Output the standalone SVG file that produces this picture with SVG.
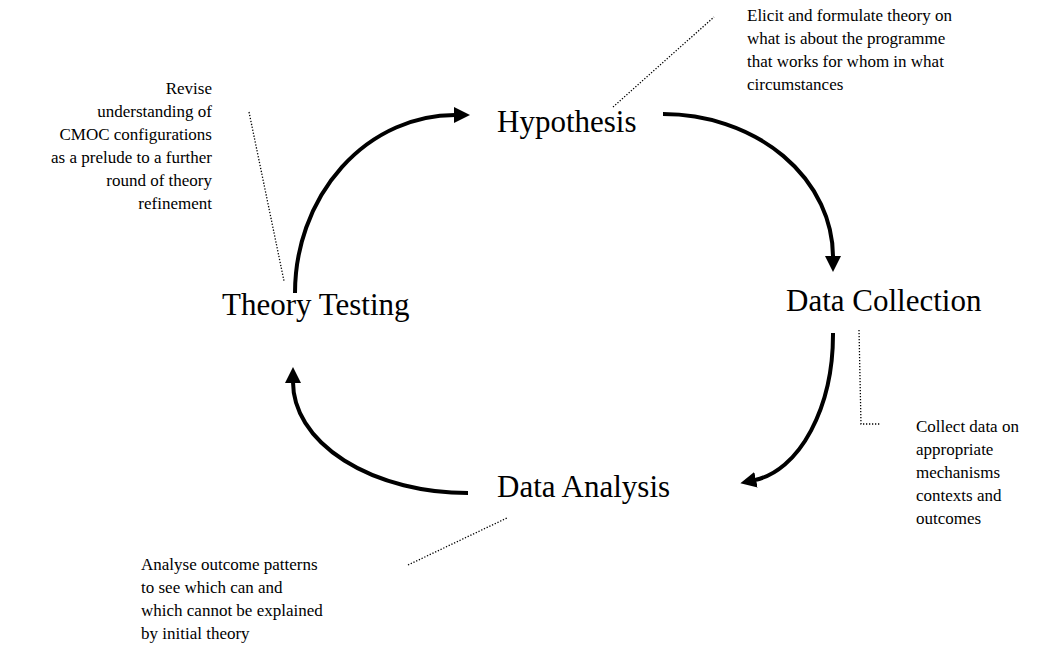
<svg xmlns="http://www.w3.org/2000/svg" width="1053" height="653" viewBox="0 0 1053 653">
<style>
.node{font-family:"Liberation Serif","Times New Roman",serif;font-size:31px;fill:#000}
.note{font-family:"Liberation Serif","Times New Roman",serif;font-size:17px;fill:#000}
.arc{fill:none;stroke:#000;stroke-width:4}
.dot{fill:none;stroke:#000;stroke-width:1.3;stroke-dasharray:1.3 1.7}
</style>
<defs>
<marker id="ah" markerUnits="userSpaceOnUse" markerWidth="16" markerHeight="16" viewBox="0 0 16 16" refX="1" refY="8" orient="auto">
<path d="M0,0 L16,8 L0,16 z" fill="#000"/>
</marker>
</defs>
<rect width="1053" height="653" fill="#fff"/>
<g id="connectors">
<path class="arc" d="M295,293 A160,178 0 0 1 455,115" marker-end="url(#ah)"/>
<path class="arc" d="M663,114 A170,143 0 0 1 833,257" marker-end="url(#ah)"/>
<path class="arc" d="M833,333 A90,147 0 0 1 755,480" marker-end="url(#ah)"/>
<path class="arc" d="M468,493 A175,111 0 0 1 293,382" marker-end="url(#ah)"/>
<path class="dot" d="M613,107 L714,17"/>
<path class="dot" d="M249,112 L284,281"/>
<path class="dot" d="M859,330 L861,424 L880,424"/>
<path class="dot" d="M408,565 L507,518"/>
</g>
<g id="hypothesis"><text class="node" x="497" y="132">Hypothesis</text></g>
<g id="theory-testing"><text class="node" x="222" y="315">Theory Testing</text></g>
<g id="data-collection"><text class="node" x="786" y="311">Data Collection</text></g>
<g id="data-analysis"><text class="node" x="497" y="497">Data Analysis</text></g>
<g id="note-hypothesis" class="note">
<text x="747" y="21">Elicit and formulate theory on</text>
<text x="747" y="44">what is about the programme</text>
<text x="747" y="67">that works for whom in what</text>
<text x="747" y="90">circumstances</text>
</g>
<g id="note-theory" class="note" text-anchor="end">
<text x="212" y="94">Revise</text>
<text x="212" y="117">understanding of</text>
<text x="212" y="140">CMOC configurations</text>
<text x="212" y="163">as a prelude to a further</text>
<text x="212" y="186">round of theory</text>
<text x="212" y="209">refinement</text>
</g>
<g id="note-collection" class="note">
<text x="916" y="432">Collect data on</text>
<text x="916" y="455">appropriate</text>
<text x="916" y="478">mechanisms</text>
<text x="916" y="501">contexts and</text>
<text x="916" y="524">outcomes</text>
</g>
<g id="note-analysis" class="note">
<text x="141" y="570">Analyse outcome patterns</text>
<text x="141" y="593">to see which can and</text>
<text x="141" y="616">which cannot be explained</text>
<text x="141" y="639">by initial theory</text>
</g>
</svg>
